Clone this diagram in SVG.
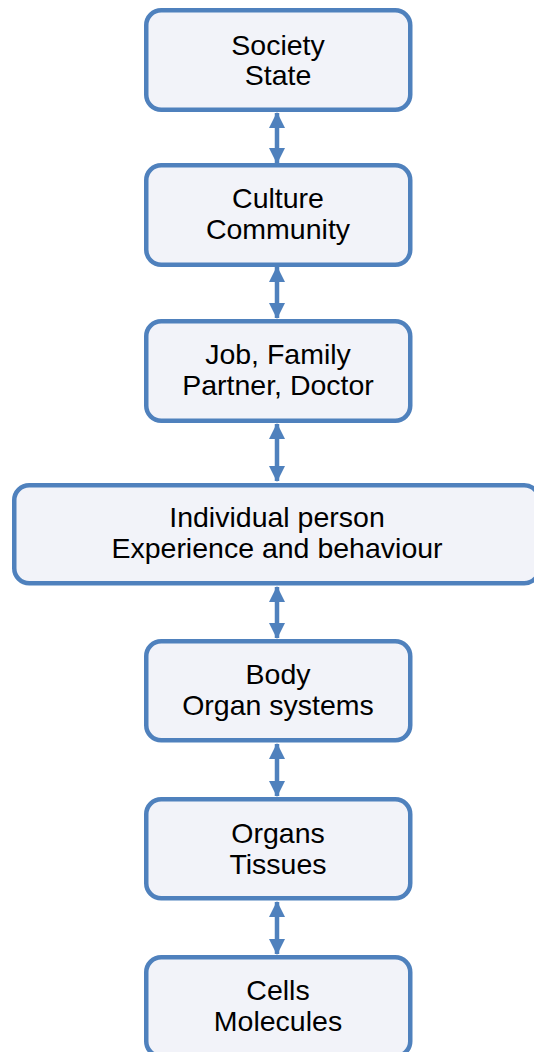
<svg xmlns="http://www.w3.org/2000/svg" width="534" height="1052" viewBox="0 0 534 1052">
  <style>
    .box { fill: #f2f3f9; stroke: #4f81bd; stroke-width: 4.5; }
    .lbl { font-family: "Liberation Sans", Arial, sans-serif; font-size: 28.5px; fill: #000; text-anchor: middle; }
    .link { stroke: #4f81bd; stroke-width: 4.5; fill: none; }
  </style>
  <defs>
    <marker id="head" viewBox="0 0 16 16" refX="15" refY="8" markerWidth="16" markerHeight="16" markerUnits="userSpaceOnUse" orient="auto-start-reverse">
      <path d="M0,0 L16,8 L0,16 Z" fill="#4f81bd"/>
    </marker>
  </defs>

  <g id="connectors">
    <line class="link" x1="277" y1="113" x2="277" y2="163" marker-start="url(#head)" marker-end="url(#head)"/>
    <line class="link" x1="277" y1="267" x2="277" y2="318" marker-start="url(#head)" marker-end="url(#head)"/>
    <line class="link" x1="277" y1="424" x2="277" y2="481" marker-start="url(#head)" marker-end="url(#head)"/>
    <line class="link" x1="277" y1="587" x2="277" y2="638" marker-start="url(#head)" marker-end="url(#head)"/>
    <line class="link" x1="277" y1="744" x2="277" y2="796" marker-start="url(#head)" marker-end="url(#head)"/>
    <line class="link" x1="277" y1="902" x2="277" y2="954" marker-start="url(#head)" marker-end="url(#head)"/>
  </g>

  <g id="society">
    <rect class="box" x="146.25" y="10.25" width="264" height="99.5" rx="15"/>
    <text class="lbl" x="278" y="55">Society</text>
    <text class="lbl" x="278" y="85">State</text>
  </g>

  <g id="culture">
    <rect class="box" x="146.25" y="165.25" width="264" height="99.5" rx="15"/>
    <text class="lbl" x="278" y="208">Culture</text>
    <text class="lbl" x="278" y="239">Community</text>
  </g>

  <g id="relations">
    <rect class="box" x="146.25" y="321.25" width="264" height="99.5" rx="15"/>
    <text class="lbl" x="278" y="364">Job, Family</text>
    <text class="lbl" x="278" y="395">Partner, Doctor</text>
  </g>

  <g id="individual">
    <rect class="box" x="14.25" y="485.25" width="525" height="98" rx="15"/>
    <text class="lbl" x="277" y="527">Individual person</text>
    <text class="lbl" x="277" y="558">Experience and behaviour</text>
  </g>

  <g id="body">
    <rect class="box" x="146.25" y="641.25" width="264" height="99" rx="15"/>
    <text class="lbl" x="278" y="684">Body</text>
    <text class="lbl" x="278" y="715">Organ systems</text>
  </g>

  <g id="organs">
    <rect class="box" x="146.25" y="799.25" width="264" height="99" rx="15"/>
    <text class="lbl" x="278" y="843">Organs</text>
    <text class="lbl" x="278" y="874">Tissues</text>
  </g>

  <g id="cells">
    <rect class="box" x="146.25" y="957.25" width="264" height="99" rx="15"/>
    <text class="lbl" x="278" y="1000">Cells</text>
    <text class="lbl" x="278" y="1031">Molecules</text>
  </g>
</svg>
